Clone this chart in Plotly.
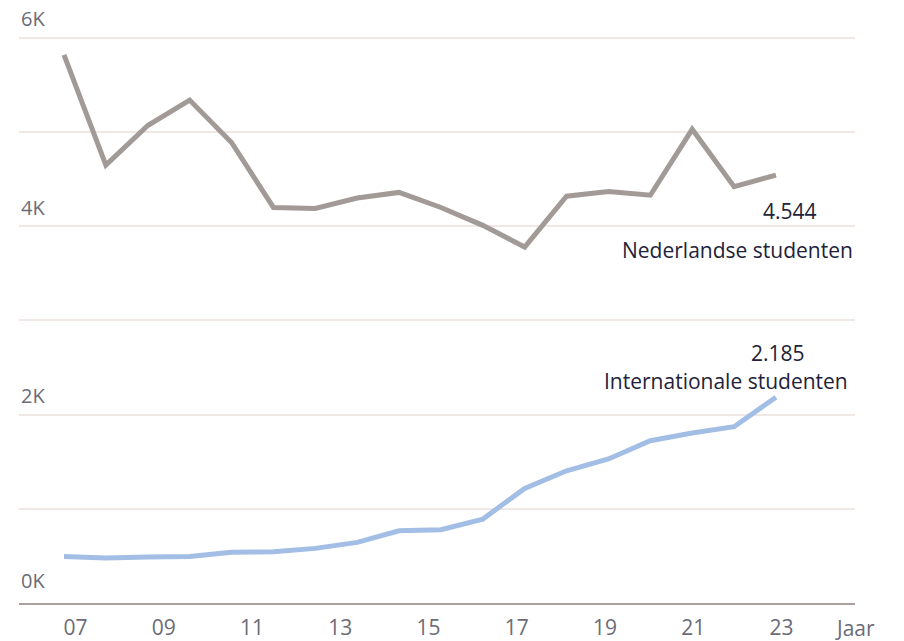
import plotly.graph_objects as go

# ---- data ----
years = list(range(2006, 2024))
nederlandse = [5820, 4650, 5070, 5340, 4890, 4200, 4190, 4300, 4360, 4200,
               4010, 3780, 4320, 4370, 4330, 5030, 4420, 4544]
internationale = [495, 477, 488, 495, 538, 544, 580, 644, 767, 778,
                  891, 1217, 1404, 1529, 1723, 1805, 1872, 2185]
tick_labels = ["07", "09", "11", "13", "15", "17", "19", "21", "23"]
y_tick_vals = [0, 2000, 4000, 6000]
y_tick_text = ["0K", "2K", "4K", "6K"]

TICK_START = 2006.2746
TICK_STEP = 2.1072
tick_vals = [TICK_START + k * TICK_STEP for k in range(len(tick_labels))]

FONT = "Open Sans"
GREY = "#a29a97"
BLUE = "#a3bee5"
DARK = "#22223a"
TICKC = "#6c6b78"
GRID = "#efe8e5"

Y_MAX = 6318
PX_PER_UNIT = 595 / Y_MAX  # plot height in px / y range

fig = go.Figure()
fig.add_trace(go.Scatter(x=years, y=nederlandse, mode="lines",
                         line=dict(color=GREY, width=5),
                         name="Nederlandse studenten", hoverinfo="skip"))
fig.add_trace(go.Scatter(x=years, y=internationale, mode="lines",
                         line=dict(color=BLUE, width=5),
                         name="Internationale studenten", hoverinfo="skip"))

# page body has an 8px margin, so the figure is sized/offset to compensate
fig.update_layout(
    width=896, height=633,
    margin=dict(l=11, r=49, t=0, b=38),
    paper_bgcolor="white", plot_bgcolor="white",
    showlegend=False,
    font=dict(family=FONT, size=20, color=TICKC),
    xaxis=dict(range=[2004.9255, 2024.887], tickmode="array",
               tickvals=tick_vals, ticktext=tick_labels,
               showgrid=False, zeroline=False, showline=True,
               linecolor="#a9a2a0", linewidth=1.5, ticks="",
               ticklabelstandoff=5,
               tickfont=dict(family=FONT, size=21, color=TICKC)),
    yaxis=dict(range=[0, Y_MAX], tickmode="array",
               tickvals=y_tick_vals, ticktext=y_tick_text,
               showticklabels=False,
               showgrid=True, gridcolor=GRID, gridwidth=1.5,
               minor=dict(dtick=1000, tick0=0, showgrid=True,
                          gridcolor=GRID, gridwidth=1.5),
               zeroline=False, ticks=""),
)

# y tick labels sit above their gridlines, at the left edge
for val, txt in zip(y_tick_vals, y_tick_text):
    lift_px = 23 if val == 0 else 19.5
    fig.add_annotation(text=txt, x=0, y=val + lift_px / PX_PER_UNIT,
                       xref="paper", yref="y", xanchor="left", yanchor="middle",
                       height=20, valign="middle", showarrow=False,
                       font=dict(family=FONT, size=20, color=TICKC))

ann = [
    dict(text="4.544", x=2023.33, y=4166, xanchor="center"),
    dict(text="Nederlandse studenten", x=2024.887, y=3752, xanchor="right"),
    dict(text="2.185", x=2023.04, y=2658, xanchor="center"),
    dict(text="Internationale studenten", x=2024.77, y=2356, xanchor="right"),
]
for a in ann:
    fig.add_annotation(text=a["text"], x=a["x"], y=a["y"], xref="x", yref="y",
                       xanchor=a["xanchor"], yanchor="middle", showarrow=False,
                       font=dict(family=FONT, size=21, color=DARK))

fig.add_annotation(text="Jaar", x=1, y=-0.042, xref="paper", yref="paper",
                   xanchor="center", yanchor="middle", showarrow=False,
                   font=dict(family=FONT, size=21, color=TICKC))

fig.write_html("out.html", config={"displayModeBar": False})
